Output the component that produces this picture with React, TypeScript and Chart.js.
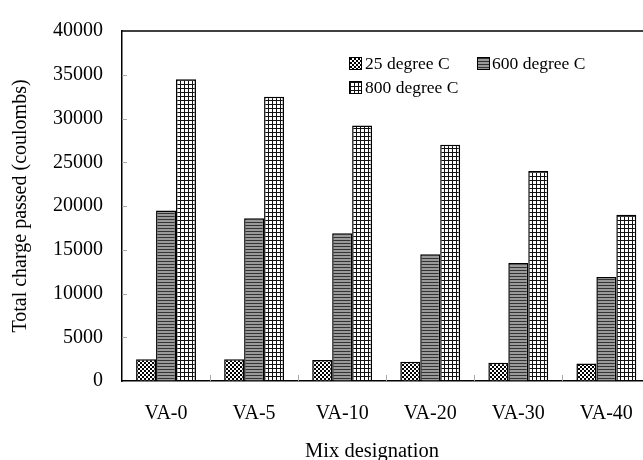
import React, { useEffect, useRef } from "react";
import { Chart, registerables } from "chart.js";

Chart.register(...registerables);

const categories = ["VA-0", "VA-5", "VA-10", "VA-20", "VA-30", "VA-40"];
const series25 = [2500, 2500, 2400, 2200, 2100, 2000];
const series600 = [19500, 18600, 16900, 14500, 13500, 11900];
const series800 = [34500, 32500, 29200, 27000, 24000, 19000];
const seriesLabels = ["25 degree C", "600 degree C", "800 degree C"];
const yTicks = { min: 0, max: 40000, step: 5000 };
const yTitle = "Total charge passed (coulombs)";
const xTitle = "Mix designation";

const FONT = '"Liberation Serif", "Times New Roman", serif';

function makePattern(kind: string): CanvasPattern | string {
  const c = document.createElement("canvas");
  const ctx = c.getContext("2d");
  if (!ctx) return "#888";
  if (kind === "checker") {
    c.width = 4; c.height = 4;
    ctx.fillStyle = "#000"; ctx.fillRect(0, 0, 4, 4);
    ctx.fillStyle = "#fff";
    ctx.fillRect(0, 0, 2, 2);
    ctx.fillRect(2, 2, 2, 2);
  } else if (kind === "hlines") {
    c.width = 4; c.height = 3;
    ctx.fillStyle = "#9a9a9a"; ctx.fillRect(0, 0, 4, 3);
    ctx.fillStyle = "#333"; ctx.fillRect(0, 0, 4, 1);
  } else {
    c.width = 4; c.height = 4;
    ctx.fillStyle = "#fff"; ctx.fillRect(0, 0, 4, 4);
    ctx.fillStyle = "#111";
    ctx.fillRect(0, 0, 4, 1);
    ctx.fillRect(0, 0, 1, 4);
  }
  const p = ctx.createPattern(c, "repeat");
  return p || "#888";
}

const innerTicks = {
  id: "innerTicks",
  afterDraw(chart: any) {
    const { ctx, chartArea } = chart;
    const { left, right, top, bottom } = chartArea;
    ctx.save();
    ctx.strokeStyle = "#aaa";
    ctx.lineWidth = 1;
    const y = chart.scales.y;
    y.ticks.forEach((t: any) => {
      const py = Math.round(y.getPixelForValue(t.value)) + 0.5;
      if (t.value === yTicks.min || t.value === yTicks.max) return;
      ctx.beginPath();
      ctx.moveTo(left, py);
      ctx.lineTo(left + 5, py);
      ctx.stroke();
    });
    const n = categories.length;
    const w = (right - left) / n;
    for (let i = 1; i < n; i++) {
      const px = Math.round(left + i * w) + 0.5;
      ctx.beginPath();
      ctx.moveTo(px, bottom);
      ctx.lineTo(px, bottom - 6);
      ctx.stroke();
    }
    ctx.strokeStyle = "#000";
    ctx.lineWidth = 1.5;
    ctx.beginPath();
    ctx.moveTo(left, top);
    ctx.lineTo(right, top);
    ctx.stroke();
    ctx.restore();
  },
};

const swatchBase: React.CSSProperties = {
  position: "absolute",
  width: 11,
  height: 11,
  border: "1px solid #000",
  boxSizing: "content-box",
};

const swatchStyles: React.CSSProperties[] = [
  {
    backgroundColor: "#000",
    backgroundImage:
      "conic-gradient(#fff 25%, #000 0 50%, #fff 0 75%, #000 0)",
    backgroundSize: "4px 4px",
  },
  {
    backgroundImage:
      "repeating-linear-gradient(to bottom, #333 0 1px, #9a9a9a 1px 3px)",
  },
  {
    backgroundColor: "#fff",
    backgroundImage:
      "linear-gradient(to right, #111 1px, transparent 1px), linear-gradient(to bottom, #111 1px, transparent 1px)",
    backgroundSize: "4px 4px",
  },
];

const legendPos = [
  { x: 349, y: 57, tx: 365 },
  { x: 477, y: 57, tx: 492 },
  { x: 349, y: 81, tx: 365 },
];

export default function App() {
  const ref = useRef<HTMLCanvasElement | null>(null);

  useEffect(() => {
    const canvas = ref.current;
    if (!canvas) return;
    const chart = new Chart(canvas, {
      type: "bar",
      data: {
        labels: categories,
        datasets: [
          { label: seriesLabels[0], data: series25, backgroundColor: makePattern("checker") as any, borderColor: "#000", borderWidth: 1.5 },
          { label: seriesLabels[1], data: series600, backgroundColor: makePattern("hlines") as any, borderColor: "#000", borderWidth: 1.5 },
          { label: seriesLabels[2], data: series800, backgroundColor: makePattern("grid") as any, borderColor: "#000", borderWidth: 1.5 },
        ],
      },
      options: {
        responsive: false,
        animation: false,
        devicePixelRatio: 1,
        layout: { padding: { left: 0, right: 2, top: 22, bottom: 0 } },
        plugins: {
          legend: { display: false },
          tooltip: { enabled: false },
        },
        datasets: {
          bar: { categoryPercentage: 0.68, barPercentage: 1.0 },
        },
        scales: {
          x: {
            grid: { display: false, drawTicks: false },
            border: { display: true, color: "#000", width: 1.5 },
            ticks: {
              color: "#000",
              padding: 21,
              font: { family: FONT, size: 20 },
              maxRotation: 0,
            },
            afterFit: (scale: any) => {
              scale.height = 79;
            },
          },
          y: {
            min: yTicks.min,
            max: yTicks.max,
            grid: { display: true, drawOnChartArea: false, drawTicks: false },
            border: { display: true, color: "#000", width: 1.5 },
            ticks: {
              stepSize: yTicks.step,
              color: "#000",
              padding: 19,
              font: { family: FONT, size: 20 },
              callback: (v: any) => String(v),
            },
            title: {
              display: true,
              text: yTitle,
              color: "#000",
              font: { family: FONT, size: 20 },
              padding: { top: 9, bottom: 0 },
            },
            afterFit: (scale: any) => {
              scale.width = 122;
            },
          },
        },
      },
      plugins: [innerTicks],
    });
    return () => chart.destroy();
  }, []);

  return (
    <div
      style={{
        position: "fixed",
        left: 0,
        top: 0,
        width: 643,
        height: 460,
        overflow: "hidden",
        background: "#fff",
      }}
    >
      <canvas ref={ref} width={654} height={460} style={{ width: 654, height: 460, display: "block" }} />
      {seriesLabels.map((lab, i) => (
        <React.Fragment key={lab}>
          <div style={{ ...swatchBase, ...swatchStyles[i], left: legendPos[i].x, top: legendPos[i].y }} />
          <div
            style={{
              position: "absolute",
              left: legendPos[i].tx,
              top: legendPos[i].y - 5,
              fontFamily: FONT,
              fontSize: 17.5,
              lineHeight: "22px",
              color: "#000",
              whiteSpace: "nowrap",
            }}
          >
            {lab}
          </div>
        </React.Fragment>
      ))}
      <div
        style={{
          position: "absolute",
          left: 0,
          width: 744,
          top: 438,
          textAlign: "center",
          fontFamily: FONT,
          fontSize: 20.5,
          lineHeight: "24px",
          color: "#000",
          whiteSpace: "nowrap",
        }}
      >
        {xTitle}
      </div>
    </div>
  );
}
